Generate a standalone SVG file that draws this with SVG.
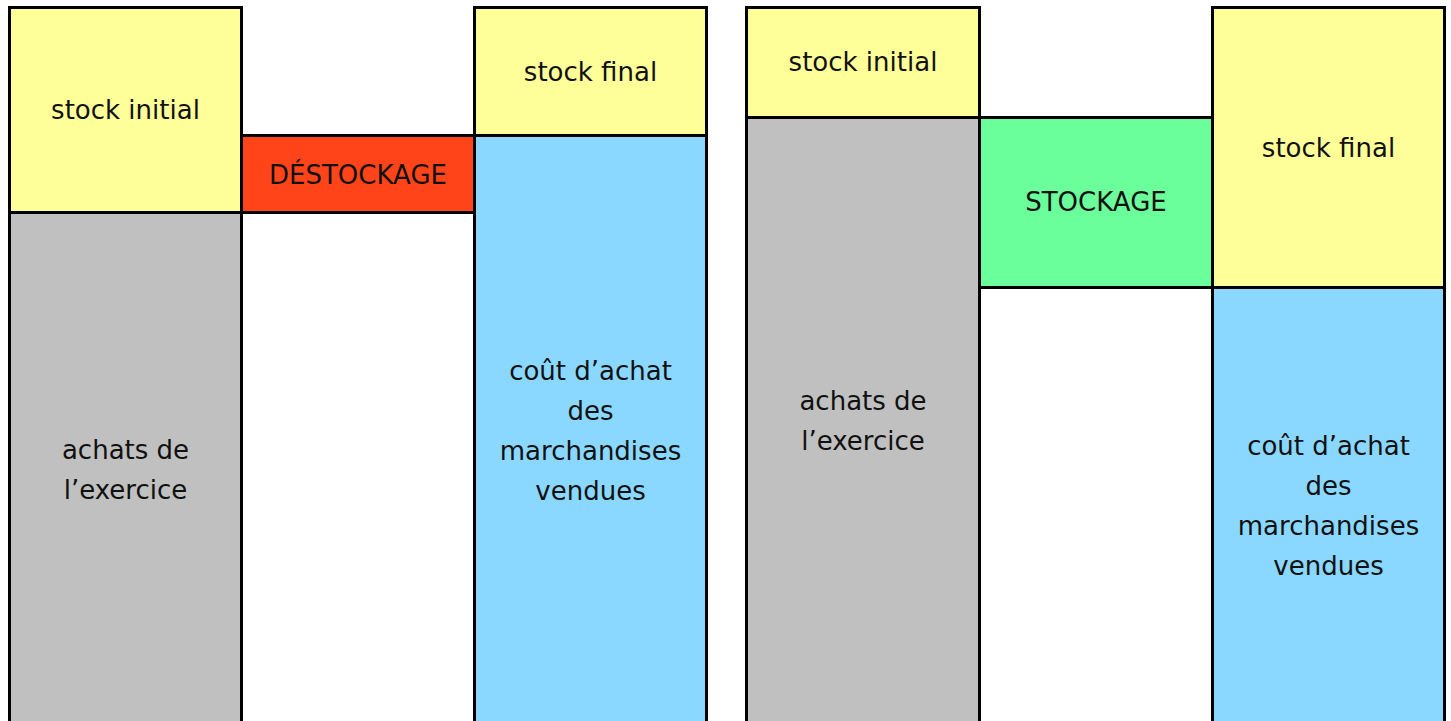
<svg xmlns="http://www.w3.org/2000/svg" width="1451" height="721" viewBox="0 0 1451 721">
<style>
rect{stroke:#000;stroke-width:3}
.y{fill:#FFFF99}.g{fill:#C0C0C0}.b{fill:#8AD8FF}.r{fill:#FF4419}.v{fill:#6AFF9A}
text{font-family:"DejaVu Sans",Verdana,sans-serif;font-size:26px;fill:#111;text-anchor:middle}
</style>
<rect x="0" y="0" width="1451" height="721" fill="#fff" style="stroke:none"/>
<g id="achats1"><rect class="g" x="9.5" y="212.5" width="232" height="520"/><text x="125.5" y="459">achats de</text><text x="125.5" y="499">l’exercice</text></g>
<g id="stockinitial1"><rect class="y" x="9.5" y="7.5" width="232" height="205"/><text x="125.5" y="119">stock initial</text></g>
<g id="destockage"><rect class="r" x="241.5" y="135.5" width="233" height="77"/><text x="358" y="184">DÉSTOCKAGE</text></g>
<g id="cout1"><rect class="b" x="474.5" y="135.5" width="232" height="600"/><text x="590.5" y="380">coût d’achat</text><text x="590.5" y="420">des</text><text x="590.5" y="460">marchandises</text><text x="590.5" y="500">vendues</text></g>
<g id="stockfinal1"><rect class="y" x="474.5" y="7.5" width="232" height="128"/><text x="590.5" y="81">stock final</text></g>
<g id="achats2"><rect class="g" x="746.5" y="117.5" width="233" height="620"/><text x="863" y="410">achats de</text><text x="863" y="450">l’exercice</text></g>
<g id="stockinitial2"><rect class="y" x="746.5" y="7.5" width="233" height="110"/><text x="863" y="71">stock initial</text></g>
<g id="stockage"><rect class="v" x="979.5" y="117.5" width="233" height="170"/><text x="1096" y="211">STOCKAGE</text></g>
<g id="cout2"><rect class="b" x="1212.5" y="287.5" width="232" height="450"/><text x="1328.5" y="455">coût d’achat</text><text x="1328.5" y="495">des</text><text x="1328.5" y="535">marchandises</text><text x="1328.5" y="575">vendues</text></g>
<g id="stockfinal2"><rect class="y" x="1212.5" y="7.5" width="232" height="280"/><text x="1328.5" y="157">stock final</text></g>
<g id="connectors"></g>
</svg>
